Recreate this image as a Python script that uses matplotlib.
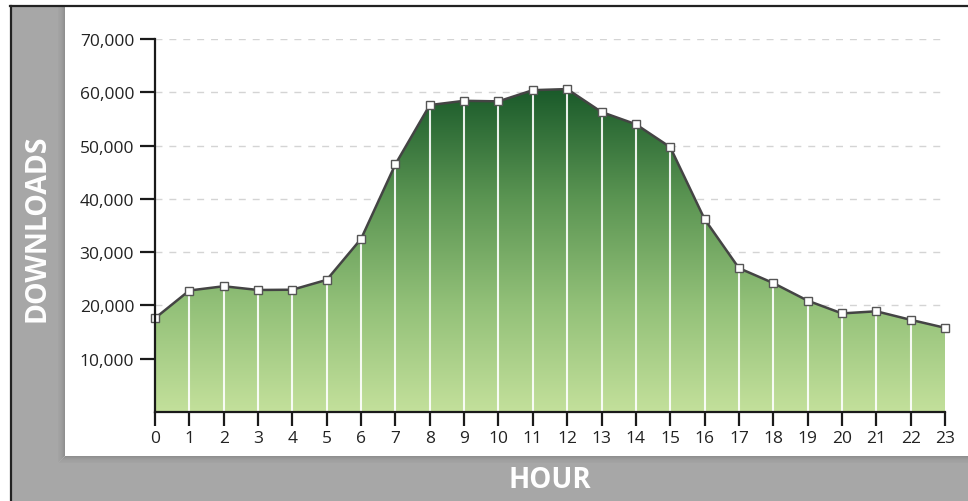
import numpy as np
import matplotlib
matplotlib.use("Agg")
import matplotlib.pyplot as plt
from matplotlib.patches import Rectangle
from matplotlib.colors import LinearSegmentedColormap

hours = list(range(24))
downloads = [17600, 22800, 23600, 22900, 22950, 24800, 32500, 46500, 57600, 58400,
             58300, 60400, 60600, 56300, 54000, 49700, 36200, 27000, 24200, 20900,
             18500, 18900, 17300, 15800]
y_ticks = [10000, 20000, 30000, 40000, 50000, 60000, 70000]
y_tick_labels = ["10,000", "20,000", "30,000", "40,000", "50,000", "60,000", "70,000"]
x_label = "HOUR"
y_label = "DOWNLOADS"

W, H = 968, 502
fig = plt.figure(figsize=(W / 100, H / 100), dpi=100)
plt.rcParams['font.family'] = ['Open Sans', 'DejaVu Sans']

# background axes in pixel coordinates
bg = fig.add_axes([0, 0, 1, 1])
bg.set_xlim(0, W)
bg.set_ylim(H, 0)
bg.axis('off')
bg.add_patch(Rectangle((0, 0), W, H, facecolor='white', edgecolor='none'))
bg.add_patch(Rectangle((11, 8), W, H, facecolor='#a7a7a7', edgecolor='none'))
# shadow of white panel
for i, a in enumerate([0.14, 0.11, 0.08, 0.06, 0.04, 0.03, 0.02]):
    bg.add_patch(Rectangle((65 - 1 - i, 8), 1, 457 - 8 + i, facecolor='black', alpha=a, edgecolor='none'))
    bg.add_patch(Rectangle((65 - i, 457 + i), W, 1, facecolor='black', alpha=a, edgecolor='none'))
bg.add_patch(Rectangle((65, 8), W - 65, 457 - 8, facecolor='white', edgecolor='none'))
bg.plot([10.5, 10.5], [7, H], color='#222222', lw=1.6)
bg.plot([10, W], [7, 7], color='#222222', lw=1.6)
bg.text(37, 228, y_label, rotation=90, ha='center', va='center', color='white',
        fontsize=20.5, fontweight='bold', family=['Open Sans', 'DejaVu Sans'])
bg.text(550, 481, x_label, ha='center', va='center', color='white',
        fontsize=20, fontweight='bold', family=['Open Sans', 'DejaVu Sans'])

# main axes
x0, x1 = 155, 945
yb, yt = 413, 40
ax = fig.add_axes([x0 / W, 1 - yb / H, (x1 - x0) / W, (yb - yt) / H])
ax.set_xlim(0, 23)
ax.set_ylim(0, 70000)
ax.patch.set_alpha(0)

# dashed gridlines
for t in y_ticks:
    ax.axhline(t, color='#d4d4d4', lw=1.0, ls=(0, (5, 5)), zorder=0)

# gradient fill
poly = ax.fill_between(hours, downloads, 0, facecolor='none', edgecolor='none', zorder=1)
cmap = LinearSegmentedColormap.from_list('g', ['#c3e09b', '#92c078', '#5a9452', '#1a5a2a'])
grad = np.linspace(0, 1, 256).reshape(-1, 1)
im = ax.imshow(grad, extent=[0, 23, 0, max(downloads)], origin='lower', aspect='auto',
               cmap=cmap, zorder=1, interpolation='bilinear')
im.set_clip_path(poly.get_paths()[0], transform=ax.transData)

# white vertical lines
ax.vlines(hours[1:-1], 0, downloads[1:-1], color='white', lw=1.5, alpha=0.9, zorder=2)

# line and markers
ax.plot(hours, downloads, color='#444444', lw=1.8, zorder=3, clip_on=False)
ax.plot(hours, downloads, ls='none', marker='s', ms=5.5, mfc='white', mec='#555555',
        mew=1.0, zorder=4, clip_on=False)

for s in ['top', 'right']:
    ax.spines[s].set_visible(False)
for s in ['left', 'bottom']:
    ax.spines[s].set_linewidth(1.6)
    ax.spines[s].set_color('#1a1a1a')
    ax.spines[s].set_zorder(5)

ax.set_yticks(y_ticks)
ax.set_yticklabels(y_tick_labels)
ax.set_xticks(hours)
ax.set_xticklabels([str(h) for h in hours])
ax.tick_params(axis='y', length=11, width=1.6, color='#1a1a1a', pad=4,
               labelsize=12.5, labelcolor='#222222')
ax.tick_params(axis='x', length=10, width=1.6, color='#1a1a1a', pad=3,
               labelsize=12.5, labelcolor='#222222')

fig.savefig('out.png', dpi=100)
